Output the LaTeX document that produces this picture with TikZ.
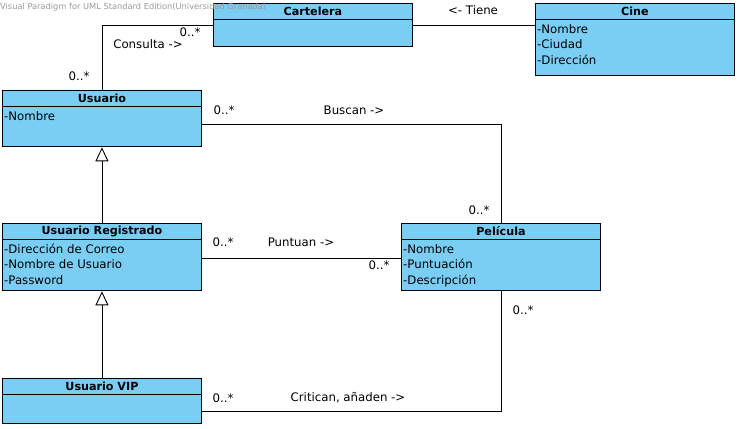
\documentclass[tikz,border=0pt]{standalone}
\usepackage{fontspec}
\setmainfont{DejaVu Sans}[BoldFont={DejaVu Sans Bold}]
\usetikzlibrary{arrows.meta,positioning,calc}
\definecolor{ink}{HTML}{000000}
\definecolor{clsfill}{HTML}{7ACEF4}
\definecolor{wmgrey}{HTML}{9A9A9A}

\begin{document}
\begin{tikzpicture}[
  x=1bp, y=-1bp, font=\fontsize{11.8}{14}\selectfont,
  head/.style={draw=ink, fill=clsfill, line width=.9bp, anchor=north west,
               minimum width=199bp, minimum height=15.5bp, inner sep=0pt,
               font=\fontsize{11.2}{13}\selectfont\bfseries},
  body/.style={draw=ink, fill=clsfill, line width=.9bp, anchor=north west,
               minimum width=199bp, minimum height=#1, inner sep=0pt},
  body/.default=27bp,
  attr/.style={anchor=base west, inner sep=0pt},
  mult/.style={inner sep=0pt},
  role/.style={inner sep=0pt},
  assoc/.style={draw=ink, line width=.9bp},
  gen/.style={draw=ink, line width=.9bp, -{Triangle[open, length=14bp, width=13bp]}},
]
\useasboundingbox (0,0) rectangle (739,428);

%% ================= top row : Cartelera, Cine =================
\node[head] (cartelera) at (213,3) {Cartelera};
\node[body=27bp] (carteleraB) at (cartelera.south west) {};

\node[head] (cine) at (535,3) {Cine};
\node[body=56bp] (cineB) at (cine.south west) {};
\foreach \t [count=\i] in {-Nombre,-Ciudad,-Dirección}
  \node[attr] (cineA\i) at ($(cineB.north west)+(2,{13.8+15.4*(\i-1)})$) {\t};

%% ================= users =================
\node[head] (usuario) at (2,90) {Usuario};
\node[body=40bp] (usuarioB) at (usuario.south west) {};
\node[attr] (usuarioA1) at ($(usuarioB.north west)+(2,13.8)$) {-Nombre};

\node[head] (registrado) at (2,223) {Usuario Registrado};
\node[body=51bp] (registradoB) at (registrado.south west) {};
\foreach \t [count=\i] in {-Dirección de Correo,-Nombre de Usuario,-Password}
  \node[attr] (registradoA\i) at ($(registradoB.north west)+(2,{13.8+15.4*(\i-1)})$) {\t};

\node[head] (vip) at (2,378) {Usuario VIP};
\node[body=29bp] (vipB) at (vip.south west) {};

%% ================= Película =================
\node[head] (pelicula) at (401,223) {Película};
\node[body=51bp] (peliculaB) at (pelicula.south west) {};
\foreach \t [count=\i] in {-Nombre,-Puntuación,-Descripción}
  \node[attr] (peliculaA\i) at ($(peliculaB.north west)+(2,{13.8+15.4*(\i-1)})$) {\t};

%% ================= associations =================
\draw[assoc] (usuario.north) |- ($(carteleraB.north west)+(0,6)$);
\node[mult] (m1) at (79,76) {0..*};
\node[role] (r1) at (148,44) {Consulta ->};
\node[mult] (m2) at (190,32) {0..*};

\draw[assoc] ($(carteleraB.north east)+(0,6)$) -- ($(cineB.north west)+(0,6)$);
\node[role] (r2) at (473,10) {<- Tiene};

\draw[assoc] ($(usuarioB.north east)+(0,18)$) -| (pelicula.north);
\node[mult] (m3) at (224,110) {0..*};
\node[role] (r3) at (354,110) {Buscan ->};
\node[mult] (m4) at (479,210) {0..*};

\draw[assoc] ($(registradoB.north east)+(0,19)$) -- ($(peliculaB.north west)+(0,19)$);
\node[mult] (m5) at (223,242) {0..*};
\node[role] (r4) at (301,242) {Puntuan ->};
\node[mult] (m6) at (379,265) {0..*};

\draw[assoc] (peliculaB.south) |- ($(vipB.north east)+(0,17)$);
\node[mult] (m7) at (523,310) {0..*};
\node[mult] (m8) at (223,398) {0..*};
\node[role] (r5) at (348,398) {Critican, añaden ->};

%% ================= generalisation =================
\draw[gen] (registrado.north) -- (usuarioB.south);
\draw[gen] (vip.north) -- (registradoB.south);

% tool watermark, printed over the Cartelera box
\node[anchor=west, inner sep=0pt, text=wmgrey, font=\fontsize{8.3}{10}\selectfont] (wm) at (0,7)
  {Visual Paradigm for UML Standard Edition(Universidad Granada)};

\end{tikzpicture}
\end{document}
